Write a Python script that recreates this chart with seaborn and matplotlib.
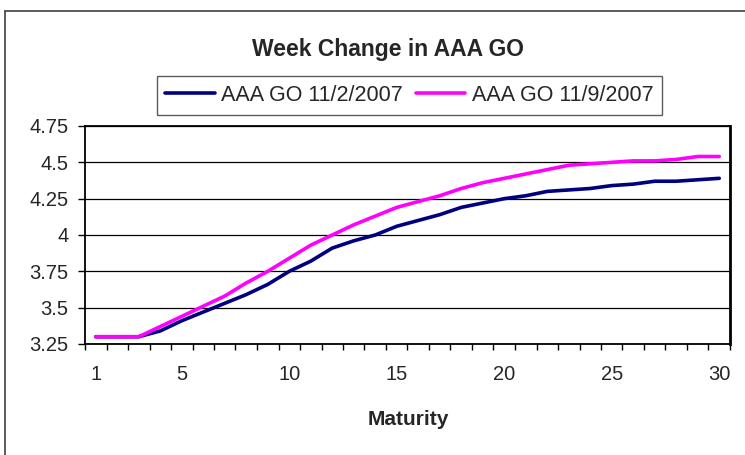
import matplotlib
matplotlib.use("Agg")
import matplotlib.pyplot as plt
import seaborn as sns
import pandas as pd
from matplotlib.lines import Line2D

maturity = list(range(1, 31))
go_1102 = [3.30, 3.30, 3.30, 3.34, 3.41, 3.47, 3.53, 3.59, 3.66, 3.75,
           3.82, 3.91, 3.96, 4.00, 4.06, 4.10, 4.14, 4.19, 4.22, 4.25,
           4.27, 4.30, 4.31, 4.32, 4.34, 4.35, 4.37, 4.37, 4.38, 4.39]
go_1109 = [3.30, 3.30, 3.30, 3.37, 3.44, 3.51, 3.58, 3.67, 3.75, 3.84,
           3.93, 4.00, 4.07, 4.13, 4.19, 4.23, 4.27, 4.32, 4.36, 4.39,
           4.42, 4.45, 4.48, 4.49, 4.50, 4.51, 4.51, 4.52, 4.54, 4.54]
series_names = ["AAA GO 11/2/2007", "AAA GO 11/9/2007"]
colors = ["#000080", "#FF00FF"]
x_labels = [1, 5, 10, 15, 20, 25, 30]
y_ticks = [3.25, 3.5, 3.75, 4.0, 4.25, 4.5, 4.75]
y_labels = ["3.25", "3.5", "3.75", "4", "4.25", "4.5", "4.75"]

df = pd.DataFrame({
    "Maturity": maturity * 2,
    "Yield": go_1102 + go_1109,
    "Series": [series_names[0]] * 30 + [series_names[1]] * 30,
})

sns.set_style("white")
plt.rcParams["font.family"] = ["Liberation Sans", "DejaVu Sans"]

W, H = 745, 455
fig = plt.figure(figsize=(W / 100, H / 100), dpi=100)
ax = fig.add_axes([85 / W, 1 - 344 / H, 645 / W, 218 / H])

sns.lineplot(data=df, x="Maturity", y="Yield", hue="Series",
             palette=colors, linewidth=2.6, ax=ax, legend=True,
             solid_capstyle="round")

ax.set_xlim(0.5, 30.5)
ax.set_ylim(3.25, 4.75)
ax.set_yticks(y_ticks)
ax.set_yticklabels(y_labels)
ax.yaxis.grid(True, color="black", linewidth=0.9)
ax.xaxis.grid(False)

ax.set_xticks([b + 0.5 for b in range(0, 31)])
ax.set_xticklabels([])
ax.set_xticks(x_labels, minor=True)
ax.set_xticklabels([str(v) for v in x_labels], minor=True)
ax.tick_params(axis="x", which="major", direction="out", length=4.5,
               width=1, color="black", bottom=True)
ax.tick_params(axis="x", which="minor", length=0, pad=15, labelsize=14.5,
               bottom=True)
ax.tick_params(axis="y", direction="out", length=5, width=1, color="black",
               pad=7, labelsize=14.5, left=True)

for side, sp in ax.spines.items():
    sp.set_visible(True)
    sp.set_color("black")
    sp.set_linewidth(1.3)
ax.spines["right"].set_linewidth(2.0)

ax.set_ylabel("")
ax.set_xlabel("")
fig.text(408 / W, 1 - 425 / H, "Maturity", ha="center", va="baseline",
         fontsize=15, fontweight="bold")
fig.text(388 / W, 1 - 56 / H, "Week Change in AAA GO", ha="center",
         va="baseline", fontsize=16.5, fontweight="bold")

handles, labels = ax.get_legend_handles_labels()
leg = ax.legend(handles, labels, loc="center", bbox_to_anchor=(0.503, 1.14),
                ncol=2, fontsize=15.5, frameon=True, fancybox=False,
                handlelength=2.3, handletextpad=0.3, columnspacing=0.6,
                borderpad=0.4, borderaxespad=0)
leg.get_frame().set_edgecolor("#333333")
leg.get_frame().set_linewidth(1.0)
for lh in leg.get_lines():
    lh.set_linewidth(2.6)

fig.add_artist(Line2D([5 / W, 5 / W], [0, 1 - 11 / H], color="#404040",
                      linewidth=1.2, transform=fig.transFigure))
fig.add_artist(Line2D([5 / W, 1], [1 - 11 / H, 1 - 11 / H], color="#404040",
                      linewidth=1.2, transform=fig.transFigure))

fig.savefig("out.png", dpi=100)
